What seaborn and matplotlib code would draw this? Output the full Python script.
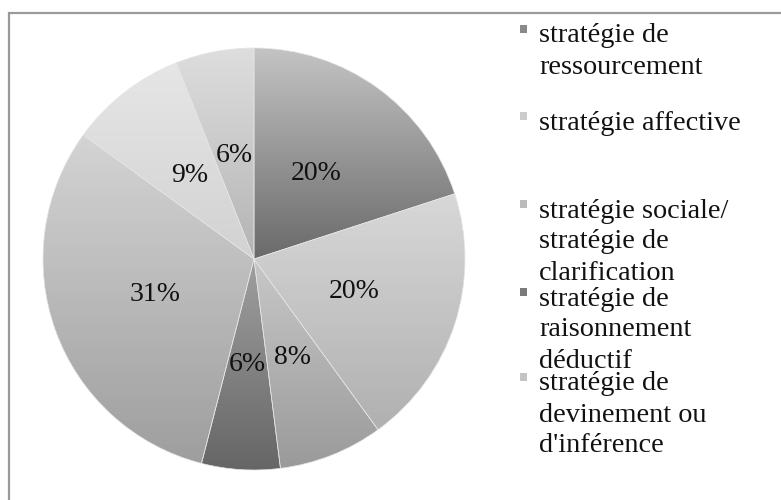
import numpy as np
import matplotlib
matplotlib.use("Agg")
import matplotlib.pyplot as plt
import seaborn as sns
from matplotlib.colors import LinearSegmentedColormap
from matplotlib.patches import Rectangle

sns.set_theme(style="white")
plt.rcParams['font.family'] = ['Liberation Serif', 'DejaVu Serif']

# ---- data ----
values = [20, 20, 8, 6, 31, 9, 6]
legend_labels = [
    "stratégie de\nressourcement",
    "stratégie affective",
    "stratégie sociale/\nstratégie de\nclarification",
    "stratégie de\nraisonnement\ndéductif",
    "stratégie de\ndevinement ou\nd'inférence",
]
top_colors = ['#c4c4c4', '#d8d8d8', '#c8c8c8', '#a0a0a0', '#d4d4d4', '#e6e6e6', '#dedede']
bottom_colors = ['#6a6a6a', '#b0b0b0', '#9a9a9a', '#666666', '#9e9e9e', '#d2d2d2', '#b4b4b4']
legend_colors = ['#8a8a8a', '#cccccc', '#bcbcbc', '#7a7a7a', '#c4c4c4']

W, H = 781, 500
fig = plt.figure(figsize=(W / 100, H / 100), dpi=100)
fig.patch.set_facecolor('white')

# frame (only left and top edges visible)
fig.patches.append(Rectangle((9 / W, -0.1), 1.2, (H - 13) / H + 0.1, transform=fig.transFigure,
                             fill=False, edgecolor='#9a9a9a', linewidth=1.6, zorder=0))

cx, cy, r = 254, 259, 211
pad = 1.03
side = 2 * r * pad
ax = fig.add_axes([(cx - r * pad) / W, (H - cy - r * pad) / H, side / W, side / H])

wedges, texts, autotexts = ax.pie(
    values, startangle=90, counterclock=False, radius=1,
    autopct=lambda p: f"{p:.0f}%", pctdistance=0.5,
    colors=top_colors,
    wedgeprops=dict(edgecolor='#e4e4e4', linewidth=0.5),
    textprops=dict(fontsize=20, color='#111111'),
)
ax.set_xlim(-pad, pad)
ax.set_ylim(-pad, pad)
ax.set_aspect('equal')
ax.axis('off')

# vertical gradient fill for each wedge
grad = np.linspace(0, 1, 256).reshape(-1, 1)
for w, ct, cb in zip(wedges, top_colors, bottom_colors):
    verts = w.get_path().vertices
    ymin, ymax = verts[:, 1].min(), verts[:, 1].max()
    xmin, xmax = verts[:, 0].min(), verts[:, 0].max()
    cmap = LinearSegmentedColormap.from_list('g', [cb, ct])
    im = ax.imshow(grad, cmap=cmap, extent=[xmin, xmax, ymin, ymax], origin='lower',
                   aspect='auto', zorder=1, interpolation='bilinear')
    im.set_clip_path(w)
    w.set_facecolor('none')
    w.set_zorder(2)
for t in autotexts:
    t.set_zorder(3)
ax.set_xlim(-pad, pad)
ax.set_ylim(-pad, pad)

# legend (drawn manually to match the overflowing layout)
marker_y = [29, 116, 204, 292, 377]
pitch = 31
for lab, col, my in zip(legend_labels, legend_colors, marker_y):
    fig.patches.append(Rectangle((520 / W, (H - my - 4) / H), 7 / W, 8 / H,
                                 transform=fig.transFigure, facecolor=col,
                                 edgecolor='none'))
    for i, line in enumerate(lab.split("\n")):
        y = my + 7 + i * pitch
        fig.text(539 / W, (H - y) / H, line, fontsize=20.3, color='#111111',
                 va='center', ha='left')

fig.savefig("out.png", dpi=100, facecolor='white')
